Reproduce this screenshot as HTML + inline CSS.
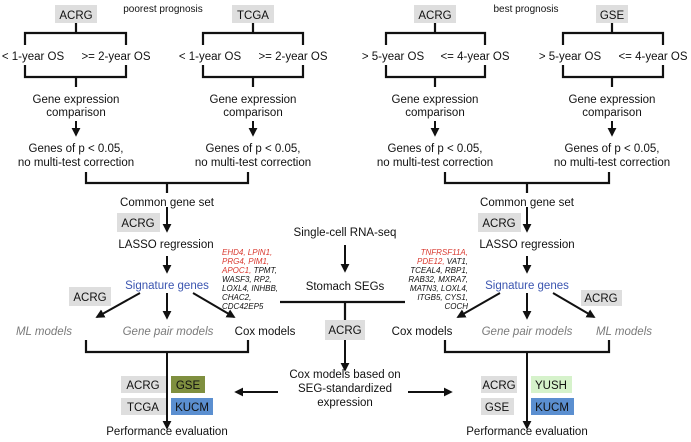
<!DOCTYPE html>
<html><head><meta charset="utf-8"><style>
html,body{margin:0;padding:0;background:#fff;}
svg{display:block;font-family:"Liberation Sans",sans-serif;}
text{font-size:11.5px;fill:#111;text-anchor:middle;}
.s{font-size:10px;}
.g{fill:#7a7a7a;font-style:italic;}
.b{fill:#3b55b0;}
.gl{font-size:8px;font-style:italic;text-anchor:start;}
.gr{font-size:8px;font-style:italic;text-anchor:end;}
.r{fill:#d9392f;}
</style></head><body>
<svg width="691" height="442" viewBox="0 0 691 442" xmlns="http://www.w3.org/2000/svg">
<defs><marker id="a" viewBox="0 0 10 10" refX="8" refY="5" markerWidth="4.5" markerHeight="4.5" orient="auto"><path d="M0,0L10,5L0,10z" fill="#111"/></marker></defs>
<g fill="#dedede">
<rect x="55" y="5" width="42" height="18"/><rect x="232" y="5" width="42" height="18"/>
<rect x="414" y="5" width="42" height="18"/><rect x="596" y="5" width="32" height="18"/>
<rect x="117" y="213" width="43" height="19"/><rect x="478" y="213" width="43" height="19"/>
<rect x="69" y="287" width="42" height="19"/><rect x="581" y="290" width="41" height="16"/>
<rect x="325" y="320" width="40" height="20"/>
<rect x="121" y="376" width="45" height="17"/><rect x="121" y="398" width="45" height="17"/>
<rect x="481" y="376" width="36" height="17"/><rect x="481" y="398" width="33" height="17"/>
</g>
<rect x="171" y="376" width="34" height="17" fill="#7f8f3f"/>
<rect x="171" y="398" width="42" height="17" fill="#5b8fd0"/>
<rect x="531" y="376" width="41" height="17" fill="#d6f2cb"/>
<rect x="531" y="398" width="43" height="17" fill="#5b8fd0"/>
<g fill="none" stroke="#111" stroke-width="2.2">
<path d="M76 23V33M25 45V33H126V45M25 65V77H126V65M76 77V87"/>
<path d="M253 23V33M203 45V33H303V45M203 65V77H303V65M253 77V87"/>
<path d="M435 23V33M386 45V33H485V45M386 65V77H485V65M435 77V87"/>
<path d="M612 23V33M563 45V33H663V45M563 65V77H663V65M612 77V87"/>
<path d="M86 172V183H248V172M167 183V193"/>
<path d="M445 172V183H609V172M527 183V193"/>
<path d="M86 340V352H248V340"/>
<path d="M445 340V352H609V340"/>
<path d="M280 302H405M345 302V320"/>
</g>
<g stroke="#111" stroke-width="2" marker-end="url(#a)">
<line x1="76" y1="121" x2="76" y2="135"/><line x1="253" y1="121" x2="253" y2="135"/>
<line x1="435" y1="121" x2="435" y2="135"/><line x1="612" y1="121" x2="612" y2="135"/>
<line x1="167" y1="207" x2="167" y2="231"/><line x1="527" y1="207" x2="527" y2="231"/>
<line x1="167" y1="256" x2="167" y2="272"/><line x1="527" y1="256" x2="527" y2="272"/>
<line x1="140" y1="293" x2="97" y2="317"/><line x1="167" y1="293" x2="167" y2="318"/><line x1="193" y1="293" x2="234" y2="317"/>
<line x1="500" y1="293" x2="458" y2="317"/><line x1="527" y1="293" x2="527" y2="318"/><line x1="553" y1="293" x2="594" y2="317"/>
<line x1="167" y1="352" x2="167" y2="428"/><line x1="527" y1="352" x2="527" y2="428"/>
<line x1="345" y1="245" x2="345" y2="271"/><line x1="345" y1="340" x2="345" y2="370"/>
<line x1="278" y1="392" x2="236" y2="392"/><line x1="408" y1="392" x2="451" y2="392"/>
</g>
<text class="s" x="163" y="12">poorest prognosis</text>
<text class="s" x="526" y="12">best prognosis</text>
<text x="76" y="19">ACRG</text><text x="253" y="19">TCGA</text><text x="435" y="19">ACRG</text><text x="612" y="19">GSE</text>
<text x="33" y="60">&lt; 1-year OS</text><text x="116" y="60">&gt;= 2-year OS</text>
<text x="210" y="60">&lt; 1-year OS</text><text x="293" y="60">&gt;= 2-year OS</text>
<text x="393" y="60">&gt; 5-year OS</text><text x="475" y="60">&lt;= 4-year OS</text>
<text x="570" y="60">&gt; 5-year OS</text><text x="653" y="60">&lt;= 4-year OS</text>
<text x="76" y="103">Gene expression</text><text x="76" y="116">comparison</text>
<text x="253" y="103">Gene expression</text><text x="253" y="116">comparison</text>
<text x="435" y="103">Gene expression</text><text x="435" y="116">comparison</text>
<text x="612" y="103">Gene expression</text><text x="612" y="116">comparison</text>
<text x="76" y="152">Genes of p &lt; 0.05,</text><text x="76" y="166">no multi-test correction</text>
<text x="253" y="152">Genes of p &lt; 0.05,</text><text x="253" y="166">no multi-test correction</text>
<text x="435" y="152">Genes of p &lt; 0.05,</text><text x="435" y="166">no multi-test correction</text>
<text x="612" y="152">Genes of p &lt; 0.05,</text><text x="612" y="166">no multi-test correction</text>
<text x="167" y="206">Common gene set</text><text x="527" y="206">Common gene set</text>
<text x="138" y="227">ACRG</text><text x="499" y="227">ACRG</text>
<text x="166" y="248">LASSO regression</text><text x="527" y="248">LASSO regression</text>
<text class="b" x="167" y="289">Signature genes</text><text class="b" x="527" y="289">Signature genes</text>
<text x="90" y="301">ACRG</text><text x="601" y="302">ACRG</text>
<text class="g" x="44" y="335">ML models</text><text class="g" x="168" y="335">Gene pair models</text><text x="265" y="335">Cox models</text>
<text x="422" y="335">Cox models</text><text class="g" x="527" y="335">Gene pair models</text><text class="g" x="624" y="335">ML models</text>
<text x="345" y="236">Single-cell RNA-seq</text>
<text x="345" y="290">Stomach SEGs</text>
<text x="345" y="334">ACRG</text>
<text x="345" y="378">Cox models based on</text><text x="345" y="392">SEG-standardized</text><text x="345" y="406">expression</text>
<text x="143" y="389">ACRG</text><text x="188" y="389">GSE</text>
<text x="143" y="411">TCGA</text><text x="192" y="411">KUCM</text>
<text x="499" y="389">ACRG</text><text x="551" y="389">YUSH</text>
<text x="497" y="411">GSE</text><text x="552" y="411">KUCM</text>
<text x="167" y="435">Performance evaluation</text><text x="527" y="435">Performance evaluation</text>
<text class="gl" x="222" y="255"><tspan class="r">EHD4, LPIN1,</tspan></text>
<text class="gl" x="222" y="264"><tspan class="r">PRG4, PIM1,</tspan></text>
<text class="gl" x="222" y="273"><tspan class="r">APOC1,</tspan> TPMT,</text>
<text class="gl" x="222" y="282">WASF3, RP2,</text>
<text class="gl" x="222" y="291">LOXL4, INHBB,</text>
<text class="gl" x="222" y="300">CHAC2,</text>
<text class="gl" x="222" y="309">CDC42EP5</text>
<text class="gr" x="468" y="255"><tspan class="r">TNFRSF11A,</tspan></text>
<text class="gr" x="468" y="264"><tspan class="r">PDE12,</tspan> VAT1,</text>
<text class="gr" x="468" y="273">TCEAL4, RBP1,</text>
<text class="gr" x="468" y="282">RAB32, MXRA7,</text>
<text class="gr" x="468" y="291">MATN3, LOXL4,</text>
<text class="gr" x="468" y="300">ITGB5, CYS1,</text>
<text class="gr" x="468" y="309">COCH</text>
</svg>
</body></html>
